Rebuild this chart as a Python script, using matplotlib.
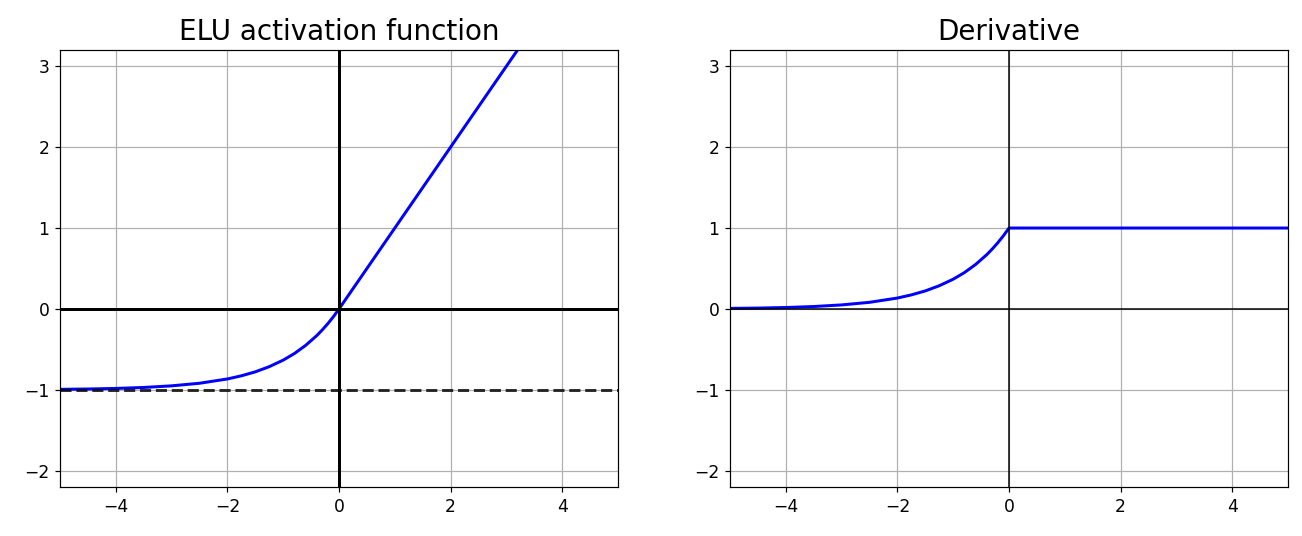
import matplotlib
matplotlib.use("Agg")
import matplotlib.pyplot as plt

# ELU curve, points
elu_x = [-5.0, -4.5, -4.0, -3.5, -3.0, -2.5, -2.0, -1.75, -1.5, -1.25, -1.0,
         -0.8, -0.6, -0.4, -0.3, -0.2, -0.1, 0.0, 1.0, 2.0, 3.0, 3.2]
elu_y = [-0.993, -0.989, -0.982, -0.970, -0.950, -0.918, -0.865, -0.826, -0.777,
         -0.713, -0.632, -0.551, -0.451, -0.330, -0.259, -0.181, -0.095, 0.0,
         1.0, 2.0, 3.0, 3.2]

# derivative, points
der_x = [-5.0, -4.5, -4.0, -3.5, -3.0, -2.5, -2.0, -1.75, -1.5, -1.25, -1.0,
         -0.8, -0.6, -0.4, -0.3, -0.2, -0.1, 0.0, 0.0, 5.0]
der_y = [0.007, 0.011, 0.018, 0.030, 0.050, 0.082, 0.135, 0.174, 0.223, 0.287,
         0.368, 0.449, 0.549, 0.670, 0.741, 0.819, 0.905, 1.0, 1.0, 1.0]

xlim = [-5, 5]
ylim = [-2.2, 3.2]

plt.rcParams["xtick.labelsize"] = 11.4
plt.rcParams["ytick.labelsize"] = 11.4

fig = plt.figure(figsize=(1302 / 108, 536 / 108), dpi=108)
ax1 = fig.add_axes([60 / 1302, 1 - 487 / 536, 558 / 1302, 437 / 536])
ax2 = fig.add_axes([730 / 1302, 1 - 487 / 536, 558 / 1302, 437 / 536])

# left: ELU
ax1.plot(elu_x, elu_y, "b-", linewidth=2)
ax1.plot(xlim, [0, 0], "k-", linewidth=2)
ax1.plot(xlim, [-1, -1], "k--", linewidth=2, alpha=0.8)
ax1.plot([0, 0], ylim, "k-", linewidth=2)
ax1.grid(True)
ax1.set_title("ELU activation function", fontsize=18.5, pad=7)
ax1.axis(xlim + ylim)

# right: derivative
ax2.plot(der_x, der_y, "b-", linewidth=2)
ax2.plot(xlim, [0, 0], "k-", linewidth=1)
ax2.plot([0, 0], ylim, "k-", linewidth=1)
ax2.grid(True)
ax2.set_title("Derivative", fontsize=18.5, pad=7)
ax2.axis(xlim + ylim)

fig.savefig("out.png", dpi=108)
